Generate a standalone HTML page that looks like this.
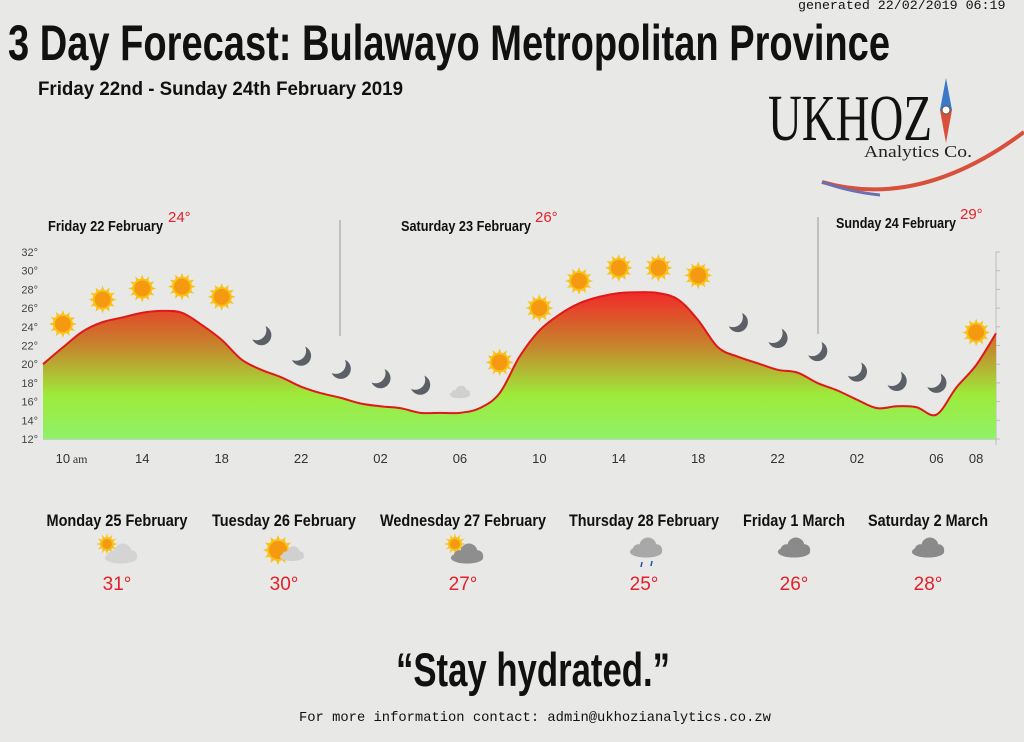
<!DOCTYPE html>
<html><head><meta charset="utf-8">
<style>
body{margin:0;width:1024px;height:742px;background:#e8e8e6;overflow:hidden;position:relative;font-family:"Liberation Sans",sans-serif}
.abs{position:absolute;white-space:nowrap}
</style></head><body>
<div class="abs" style="left:798px;top:-2px;font-family:'Liberation Mono',monospace;font-size:13.3px;color:#111">generated 22/02/2019 06:19</div>

<svg style="position:absolute;left:760px;top:70px" width="264" height="130">
<text x="8" y="70" font-family="Liberation Serif,serif" font-size="66" fill="#111" textLength="164" lengthAdjust="spacingAndGlyphs">UKHOZ</text>
<polygon points="186,8 180,40 192,40" fill="#3a78c8"/>
<polygon points="180,40 192,40 186,73" fill="#d8503a"/>
<circle cx="186" cy="40" r="4" fill="#fff" stroke="#555"/>
<text x="104" y="87" font-family="Liberation Serif,serif" font-size="17" fill="#222" textLength="108" lengthAdjust="spacingAndGlyphs">Analytics Co.</text>
<path d="M62,112 Q160,140 264,62" fill="none" stroke="#d8503a" stroke-width="4"/>
<path d="M62,112 Q90,122 120,125" fill="none" stroke="#6a70b0" stroke-width="3"/>
</svg>

<svg id="chart" style="position:absolute;left:0;top:0" width="1024" height="480">
<defs>
<linearGradient id="g" gradientUnits="userSpaceOnUse" x1="0" y1="292" x2="0" y2="439">
<stop offset="0" stop-color="#f22a2a"/><stop offset="0.35" stop-color="#c8802c"/><stop offset="0.7" stop-color="#9eea3a"/><stop offset="1" stop-color="#8ef26a"/>
</linearGradient>
</defs>
<g id="axes"></g><g id="marks"></g><g id="icons"></g>
</svg>

<svg id="txt" style="position:absolute;left:0;top:0" width="1024" height="742" font-family="Liberation Sans,sans-serif" font-weight="bold" fill="#111">
<text x="8" y="60" font-size="50" textLength="882" lengthAdjust="spacingAndGlyphs">3 Day Forecast: Bulawayo Metropolitan Province</text>
<text x="38" y="95" font-size="19" textLength="365" lengthAdjust="spacingAndGlyphs">Friday 22nd - Sunday 24th February 2019</text>
<text x="48" y="231" font-size="15" textLength="115" lengthAdjust="spacingAndGlyphs">Friday 22 February</text>
<text x="168" y="222" font-size="15" font-weight="normal" fill="#e4202a">24°</text>
<text x="401" y="231" font-size="15" textLength="130" lengthAdjust="spacingAndGlyphs">Saturday 23 February</text>
<text x="535" y="222" font-size="15" font-weight="normal" fill="#e4202a">26°</text>
<text x="836" y="228" font-size="15" textLength="120" lengthAdjust="spacingAndGlyphs">Sunday 24 February</text>
<text x="960" y="219" font-size="15" font-weight="normal" fill="#e4202a">29°</text>
<text x="396" y="686" font-size="47" textLength="274" lengthAdjust="spacingAndGlyphs">“Stay hydrated.”</text>
<g id="ext"></g>
</svg>

<div class="abs" style="left:299px;top:711px;font-family:'Liberation Mono',monospace;font-size:13.8px;color:#111">For more information contact: admin@ukhozianalytics.co.zw</div>

<script>
const hours = [0,1,2,3,4,5,6,7,8,9,10,11,12,13,14,15,16,17,18,19,20,21,22,23,24,25,26,27,28,29,30,31,32,33,34,35,36,37,38,39,40,41,42,43,44,45,46,47,48];
const temps = [20,21.8,23.5,24.5,25,25.5,25.7,25.5,24.2,22.6,20.5,19.4,18.6,17.6,16.9,16.4,15.8,15.5,15.3,14.8,14.8,14.8,15.3,16.9,20.8,23.6,25.3,26.5,27.2,27.6,27.7,27.6,26.9,24.7,21.8,20.8,20.1,19.4,19.1,18,17.2,16.2,15.3,15.5,15.4,14.6,17.5,19.9,23.3];
const yTicks = [12,14,16,18,20,22,24,26,28,30,32];
const xTickHours = [1,5,9,13,17,21,25,29,33,37,41,45,47];
const xTickLabels = ["10","14","18","22","02","06","10","14","18","22","02","06","08"];
const iconHours = [1,3,5,7,9,11,13,15,17,19,21,23,25,27,29,31,33,35,37,39,41,43,45,47];
const iconTypes = ["sun","sun","sun","sun","sun","moon","moon","moon","moon","moon","cloud","sun","sun","sun","sun","sun","sun","moon","moon","moon","moon","moon","moon","sun"];
const iconTemps = [24.3,26.9,28.1,28.3,27.2,23.1,20.9,19.5,18.5,17.8,17.0,20.2,26.0,28.9,30.3,30.3,29.5,24.5,22.8,21.4,19.2,18.2,18.0,23.4];
const extDays = ["Monday 25 February","Tuesday 26 February","Wednesday 27 February","Thursday 28 February","Friday 1 March","Saturday 2 March"];
const extTemps = [31,30,27,25,26,28];
const extIcons = ["pcloud","sunc","pdark","rain","dark","dark"];

const X = h => 43 + h*(953/48);
const Y = v => 439 - (v-12)*9.35;
const NS="http://www.w3.org/2000/svg";
function mk(tag,attrs,parent){const e=document.createElementNS(NS,tag);for(const k in attrs)e.setAttribute(k,attrs[k]);parent.appendChild(e);return e;}
const axes=document.getElementById('axes'), marks=document.getElementById('marks'), icons=document.getElementById('icons');

mk('line',{x1:43,y1:439,x2:996,y2:439,stroke:'#aaa'},axes);
mk('line',{x1:996,y1:252,x2:996,y2:445,stroke:'#bbb'},axes);
mk('line',{x1:340,y1:220,x2:340,y2:336,stroke:'#999'},axes);
mk('line',{x1:818,y1:217,x2:818,y2:334,stroke:'#999'},axes);
yTicks.forEach(t=>{
  const tx=mk('text',{x:38,y:Y(t)+4,'text-anchor':'end','font-size':11,fill:'#444','font-family':'Liberation Sans,sans-serif'},axes);
  tx.textContent=t+'°';
  
  
  mk('line',{x1:996,y1:Y(t),x2:1000,y2:Y(t),stroke:'#bbb'},axes);
});
xTickHours.forEach((h,i)=>{
  const tx=mk('text',{x:X(h),y:463,'text-anchor':'middle','font-size':13,fill:'#333','font-family':'Liberation Sans,sans-serif'},axes);
  tx.textContent=xTickLabels[i];
  
  
  if(i===0){const a=mk('text',{x:X(h)+10,y:463,'font-size':12,fill:'#333','font-family':'Liberation Serif,serif'},axes);a.textContent='am';}
});
function pathD(){
  const p=hours.map((h,i)=>[X(h),Y(temps[i])]);
  let d='M'+p[0][0]+','+p[0][1];
  for(let i=0;i<p.length-1;i++){
    const p0=p[i-1]||p[i],p1=p[i],p2=p[i+1],p3=p[i+2]||p2;
    const c1x=p1[0]+(p2[0]-p0[0])/6,c1y=p1[1]+(p2[1]-p0[1])/6;
    const c2x=p2[0]-(p3[0]-p1[0])/6,c2y=p2[1]-(p3[1]-p1[1])/6;
    d+=` C${c1x},${c1y} ${c2x},${c2y} ${p2[0]},${p2[1]}`;
  }
  return d;
}
const d=pathD();
const area=mk('path',{d:d+` L${X(hours[hours.length-1])},439 L${X(hours[0])},439 Z`,fill:'url(#g)'},marks);


const line=mk('path',{d:d,fill:'none',stroke:'#e01818','stroke-width':2},marks);



function sun(g,cx,cy,r){
  for(let k=0;k<12;k++){const a=k*Math.PI/6;mk('polygon',{points:`${cx+Math.cos(a-0.2)*r},${cy+Math.sin(a-0.2)*r} ${cx+Math.cos(a)*(r+5)},${cy+Math.sin(a)*(r+5)} ${cx+Math.cos(a+0.2)*r},${cy+Math.sin(a+0.2)*r}`,fill:'#f8c21a'},g);}
  mk('circle',{cx,cy,r:r+1,fill:'#f8c21a'},g);
  mk('circle',{cx,cy,r:r-1,fill:'#f59a10'},g);
}
function cloud(g,cx,cy,s,col){
  mk('ellipse',{cx:cx,cy:cy+4*s,rx:17*s,ry:6*s,fill:col},g);
  mk('circle',{cx:cx+2*s,cy:cy-2*s,r:9*s,fill:col},g);
  mk('circle',{cx:cx-8*s,cy:cy+2*s,r:6*s,fill:col},g);
  mk('circle',{cx:cx+11*s,cy:cy+2*s,r:6*s,fill:col},g);
}
iconHours.forEach((h,i)=>{
  const g=mk('g',{},icons);
  
  
  const cx=X(h),cy=Y(iconTemps[i]);
  const t=iconTypes[i];
  if(t==='sun') sun(g,cx,cy,9);
  else if(t==='moon'){
    mk('circle',{cx:cx,cy:cy,r:10,fill:'#5b5f66'},g);
    mk('circle',{cx:cx-5,cy:cy-5,r:10,fill:'#e8e8e6'},g);
  } else cloud(g,cx,cy,0.6,'#d0d0d0');
});

const ext=document.getElementById('ext');
const centers=[117,284,463,644,794,928];
const widths=[141,144,166,150,102,120];
extDays.forEach((n,i)=>{
  const g=mk('g',{},ext);
  
  
  const nm=mk('text',{x:centers[i]-widths[i]/2,y:526,'font-size':17,textLength:widths[i],lengthAdjust:'spacingAndGlyphs'},g);
  nm.textContent=n;
  const tt=mk('text',{x:centers[i],y:590,'font-size':19,'font-weight':'normal',fill:'#e4202a','text-anchor':'middle'},g);
  tt.textContent=extTemps[i]+'°';
  const cx=centers[i]-30, cy=530;
  const s=mk('g',{transform:`translate(${cx},${cy})`},g);
  const ic=extIcons[i];
  if(ic==='pcloud'){sun(s,20,14,6);cloud(s,34,24,0.95,'#d4d4d4');}
  else if(ic==='sunc'){sun(s,24,20,10);cloud(s,38,24,0.7,'#d0d0d0');}
  else if(ic==='pdark'){sun(s,22,14,6);cloud(s,34,24,0.95,'#8e8e8e');}
  else if(ic==='rain'){cloud(s,32,18,0.95,'#a8a8a8');mk('line',{x1:28,y1:32,x2:27,y2:37,stroke:'#2050b0','stroke-width':1.5},s);mk('line',{x1:38,y1:31,x2:37,y2:36,stroke:'#2050b0','stroke-width':1.5},s);}
  else cloud(s,30,18,0.95,'#8a8a8a');
});
</script>
</body></html>
